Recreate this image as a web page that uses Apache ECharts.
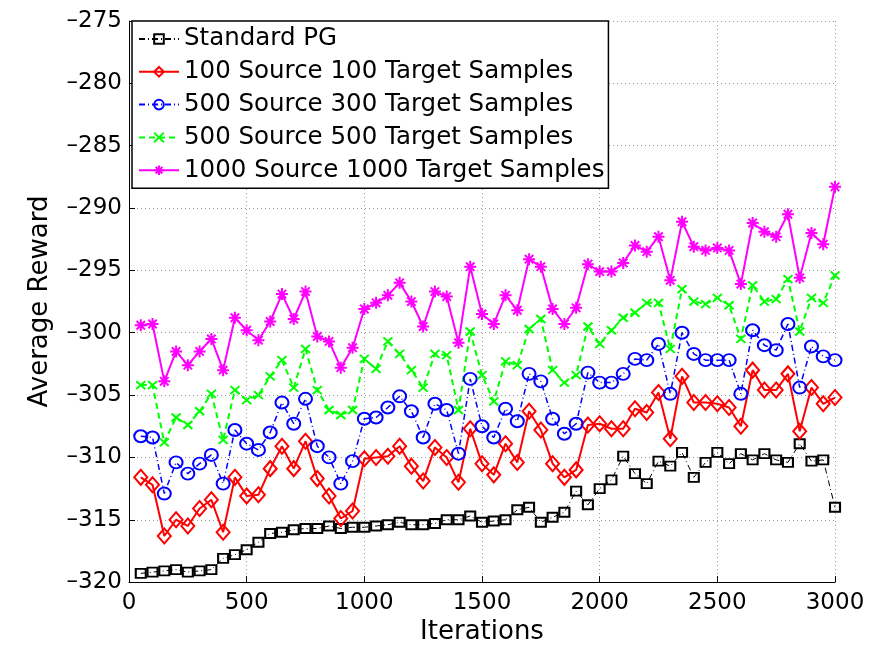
<!DOCTYPE html>
<html>
<head>
<meta charset="utf-8">
<script src="https://cdn.jsdelivr.net/npm/echarts@6/dist/echarts.min.js"></script>
<style>
  html, body { margin: 0; padding: 0; background: #fff; }
  #main { width: 885px; height: 650px; }
</style>
</head>
<body>
<div id="main"></div>
<script>
// iterations (x)
const iterations = [50, 100, 150, 200, 250, 300, 350, 400, 450, 500,
  550, 600, 650, 700, 750, 800, 850, 900, 950, 1000,
  1050, 1100, 1150, 1200, 1250, 1300, 1350, 1400, 1450, 1500,
  1550, 1600, 1650, 1700, 1750, 1800, 1850, 1900, 1950, 2000,
  2050, 2100, 2150, 2200, 2250, 2300, 2350, 2400, 2450, 2500,
  2550, 2600, 2650, 2700, 2750, 2800, 2850, 2900, 2950, 3000];

const standardPG = [-319.3, -319.2, -319.1, -319.0, -319.2, -319.1, -319.0, -318.1, -317.8, -317.4,
  -316.8, -316.1, -316.0, -315.8, -315.7, -315.7, -315.5, -315.7, -315.6, -315.6,
  -315.5, -315.4, -315.2, -315.4, -315.4, -315.3, -315.0, -315.0, -314.7, -315.2,
  -315.1, -315.0, -314.2, -314.0, -315.2, -314.8, -314.4, -312.7, -313.8, -312.5,
  -311.8, -309.9, -311.3, -312.1, -310.3, -310.7, -309.6, -311.6, -310.4, -309.6,
  -310.5, -309.7, -310.2, -309.7, -310.2, -310.4, -308.9, -310.3, -310.2, -314.0];

const src100tgt100 = [-311.6, -312.2, -316.3, -315.0, -315.5, -314.1, -313.4, -316.0, -311.6, -313.1,
  -313.0, -310.9, -309.1, -310.9, -308.7, -311.7, -313.1, -314.9, -314.3, -310.1,
  -310.0, -309.9, -309.1, -310.7, -311.9, -309.2, -310.0, -312.0, -307.7, -310.5,
  -311.4, -308.9, -310.4, -306.3, -307.8, -310.5, -311.6, -311.0, -307.4, -307.3,
  -307.7, -307.7, -306.1, -306.4, -304.8, -308.5, -303.5, -305.6, -305.6, -305.7,
  -306.0, -307.5, -303.0, -304.6, -304.6, -303.3, -307.9, -304.4, -305.7, -305.2];

const src500tgt300 = [-308.3, -308.4, -312.9, -310.4, -311.3, -310.5, -309.8, -312.1, -307.8, -308.9,
  -309.4, -308.0, -305.6, -307.3, -305.3, -309.1, -310.0, -312.1, -310.3, -306.9,
  -306.8, -306.0, -305.1, -306.3, -308.4, -305.7, -306.2, -309.7, -303.7, -307.5,
  -308.4, -306.1, -307.1, -303.3, -303.9, -306.9, -308.1, -307.3, -303.2, -304.0,
  -304.0, -303.3, -302.1, -302.2, -300.9, -304.9, -300.0, -301.7, -302.2, -302.2,
  -302.2, -304.9, -299.8, -301.0, -301.4, -299.3, -304.4, -301.1, -301.9, -302.2];

const src500tgt500 = [-304.2, -304.2, -308.8, -306.8, -307.4, -306.3, -304.9, -308.6, -304.6, -305.4,
  -305.0, -303.5, -302.2, -304.4, -301.3, -304.6, -306.2, -306.6, -306.2, -302.1,
  -302.9, -300.7, -301.7, -303.0, -304.4, -301.7, -301.8, -306.2, -299.9, -303.4,
  -305.5, -302.3, -302.6, -299.7, -298.9, -303.0, -304.0, -303.4, -299.5, -300.9,
  -299.8, -298.8, -298.4, -297.6, -297.6, -301.3, -296.5, -297.5, -297.7, -297.2,
  -297.8, -300.5, -296.2, -297.5, -297.3, -295.7, -299.9, -297.2, -297.6, -295.4];

const src1000tgt1000 = [-299.4, -299.3, -303.9, -301.5, -302.6, -301.5, -300.5, -303.0, -298.8, -299.8,
  -300.6, -299.1, -296.9, -298.9, -296.7, -300.3, -300.7, -302.8, -301.2, -298.1,
  -297.6, -297.0, -296.0, -297.5, -299.5, -296.7, -297.1, -300.8, -294.7, -298.5,
  -299.3, -297.0, -298.2, -294.1, -294.7, -298.1, -299.3, -298.0, -294.5, -295.1,
  -295.1, -294.4, -293.0, -293.5, -292.3, -295.8, -291.1, -293.1, -293.4, -293.2,
  -293.4, -296.1, -291.2, -291.9, -292.3, -290.5, -295.6, -292.0, -292.9, -288.3];

const seriesNames = ['Standard PG', '100 Source 100 Target Samples', '500 Source 300 Target Samples',
  '500 Source 500 Target Samples', '1000 Source 1000 Target Samples'];

const FONT = 'DejaVu Sans';
const xMark = 'path://M0,0L10,10M10,0L0,10';
const starMark = 'path://M5,0L5,10M0,5L10,5M1.5,1.5L8.5,8.5M8.5,1.5L1.5,8.5';

function pairs(vals) {
  return vals.map(function (v, i) { return [iterations[i], v]; });
}

function makeSeries(name, vals, color, symbol, size, lineType, lineWidth) {
  return {
    name: name,
    type: 'line',
    data: pairs(vals),
    symbol: symbol,
    symbolSize: size,
    symbolKeepAspect: false,
    showAllSymbol: true,
    lineStyle: { color: color, width: lineWidth, type: lineType },
    itemStyle: { color: 'rgba(0,0,0,0)', borderColor: color, borderWidth: 2 },
    emphasis: { disabled: true }
  };
}

const myChart = echarts.init(document.getElementById('main'));

const option = {
  animation: false,
  backgroundColor: '#fff',
  grid: { left: 129, right: 50, top: 21, bottom: 51 },
  legend: {
    orient: 'vertical',
    left: 132,
    top: 21,
    padding: [5, 4, 5, 6],
    itemWidth: 40,
    itemHeight: 12,
    itemGap: 6.8,
    backgroundColor: '#fff',
    borderColor: '#000',
    borderWidth: 1.5,
    textStyle: { fontFamily: FONT, fontSize: 24.5, color: '#000', lineHeight: 26 },
    data: seriesNames
  },
  xAxis: {
    type: 'value',
    min: 0,
    max: 3000,
    interval: 500,
    name: 'Iterations',
    nameLocation: 'middle',
    nameGap: 25,
    nameTextStyle: { fontFamily: FONT, fontSize: 26, color: '#000' },
    axisLine: { lineStyle: { color: '#000', width: 1 } },
    axisTick: { inside: true, length: 6, lineStyle: { color: '#000' } },
    axisLabel: {
      fontFamily: FONT, fontSize: 23, color: '#000', margin: 9,
      formatter: function (v) { return String(v); }
    },
    splitLine: { show: true, lineStyle: { color: '#999', type: [1, 3], width: 1 } }
  },
  yAxis: {
    type: 'value',
    min: -320,
    max: -275,
    interval: 5,
    name: 'Average Reward',
    nameLocation: 'middle',
    nameGap: 76,
    nameTextStyle: { fontFamily: FONT, fontSize: 26, color: '#000' },
    axisLine: { show: true, lineStyle: { color: '#000', width: 1 } },
    axisTick: { show: true, inside: true, length: 6, lineStyle: { color: '#000' } },
    axisLabel: {
      fontFamily: FONT, fontSize: 23, color: '#000', margin: 7,
      formatter: function (v) { return String(v).replace('-', '\u2013'); }
    },
    splitLine: { show: true, lineStyle: { color: '#999', type: [1, 3], width: 1 } }
  },
  series: [
    makeSeries(seriesNames[0], standardPG, '#000000', 'rect', [10, 9], [6, 3, 1, 3], 1),
    makeSeries(seriesNames[1], src100tgt100, '#ff0000', 'diamond', [13, 15], 'solid', 2),
    makeSeries(seriesNames[2], src500tgt300, '#0000ff', 'circle', [13, 12], [6, 3, 1, 3], 1.5),
    makeSeries(seriesNames[3], src500tgt500, '#00ff00', xMark, [9, 8], [6, 4], 2),
    makeSeries(seriesNames[4], src1000tgt1000, '#ff00ff', starMark, [12, 12], 'solid', 2)
  ]
};

myChart.setOption(option);
</script>
</body>
</html>
